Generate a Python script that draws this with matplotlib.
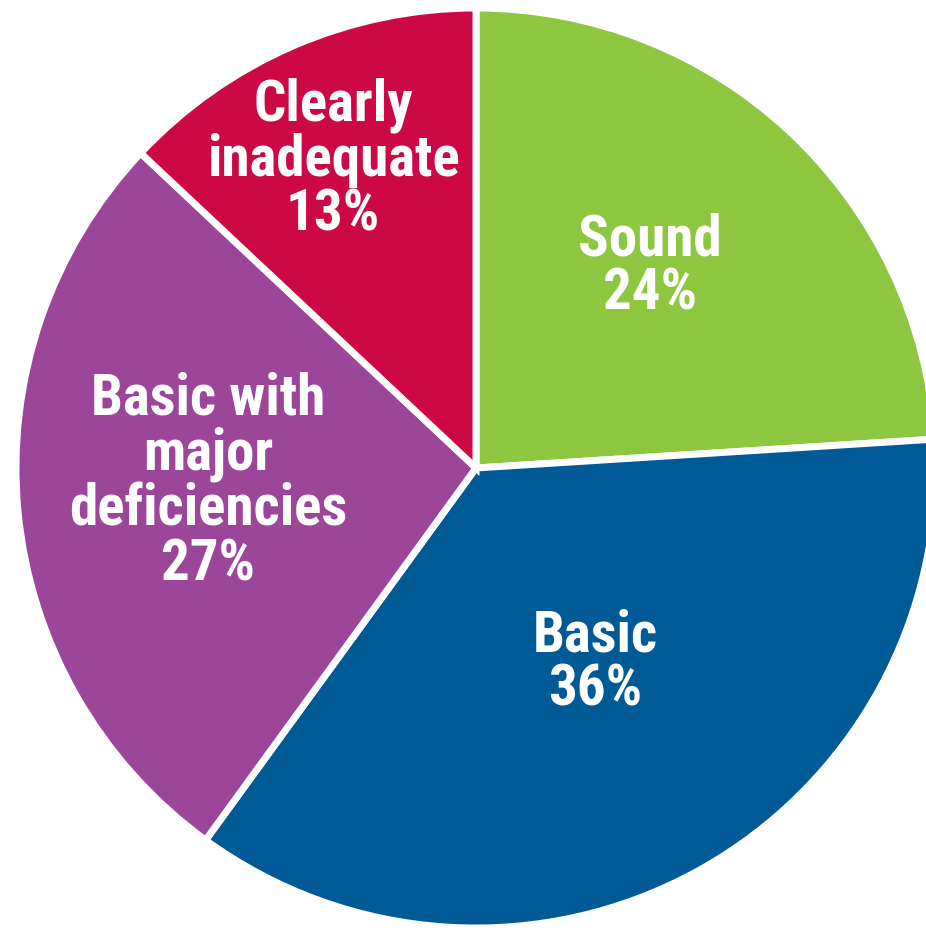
import matplotlib
matplotlib.use("Agg")
import matplotlib.pyplot as plt
from matplotlib import font_manager as fm

categories = ["Sound", "Basic", "Basic with\nmajor\ndeficiencies", "Clearly\ninadequate"]
shares = [24, 36, 27, 13]
colors = ["#8DC63F", "#005A96", "#9B4699", "#CC0845"]

# pick a bold condensed face if one is available
family = "Liberation Sans"
for cand in ["Liberation Sans Narrow", "Roboto Condensed", "Open Sans Condensed"]:
    try:
        fm.findfont(fm.FontProperties(family=cand), fallback_to_default=False)
        family = cand
        break
    except Exception:
        pass

W, H = 926, 933
fig = plt.figure(figsize=(W / 100, H / 100), dpi=100)
ax = fig.add_axes([0, 0, 1, 1])

cx, cy, R = 476, 465, 460
wedges, _ = ax.pie(shares, colors=colors, startangle=90, counterclock=False,
                   center=(cx, cy), radius=R, frame=True,
                   wedgeprops=dict(edgecolor="white", linewidth=5))
ax.set_xlim(0, W)
ax.set_ylim(0, H)
ax.set_aspect("equal")
ax.axis("off")

# label centres (pixels, y up)
label_pos = [(650, 666), (595, 270), (208, 451), (333, 773)]
for name, v, (x, y) in zip(categories, shares, label_pos):
    ax.text(x, y, f"{name}\n{v}%", ha="center", va="center", color="white",
            fontsize=41, fontweight="bold", family=[family, "DejaVu Sans"],
            linespacing=1.0)

fig.savefig("out.png", dpi=100)
